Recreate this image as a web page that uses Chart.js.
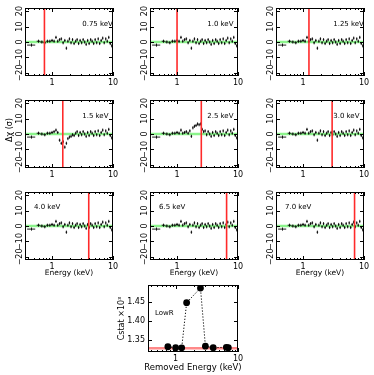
<!DOCTYPE html>
<html>
<head>
<meta charset="utf-8">
<script src="https://cdn.jsdelivr.net/npm/chart.js@4.4.1/dist/chart.umd.min.js"></script>
<style>
  html, body { margin: 0; padding: 0; background: #fff; }
  #wrap { position: relative; width: 374px; height: 375px; overflow: hidden; }
  canvas { position: absolute; }
</style>
</head>
<body>
<div id="wrap"></div>
<script>
// ---- data ----
const energies = [0.46, 0.60, 0.68, 0.76, 0.84, 0.92, 1.00, 1.08, 1.16, 1.24, 1.33, 1.42, 1.52, 1.62, 1.72,
  1.82, 1.93, 2.05, 2.17, 2.30, 2.44, 2.58, 2.73, 2.89, 3.06, 3.24, 3.43, 3.63, 3.84, 4.06,
  4.30, 4.55, 4.82, 5.10, 5.40, 5.72, 6.05, 6.40, 6.78, 7.18, 7.60, 8.05, 8.52, 9.02, 9.55];
const halfWidths = [0.07, 0.04, 0.04, 0.04, 0.04, 0.04, 0.04, 0.04, 0.04, 0.04, 0.045, 0.045, 0.05, 0.05, 0.05,
  0.05, 0.055, 0.06, 0.06, 0.065, 0.07, 0.07, 0.075, 0.08, 0.085, 0.09, 0.095, 0.1, 0.105, 0.11,
  0.12, 0.125, 0.135, 0.14, 0.15, 0.16, 0.165, 0.18, 0.19, 0.2, 0.21, 0.225, 0.235, 0.25, 0.27];
const residErr = 1;

const residBase = [-2, 0.5, 0, -0.5, 0.5, 0.5, 1, 0.5, 3, 0.5, 1.5, 2, -0.5, 1, -4,
  0.5, 2, -0.5, 1.5, -1, 0.5, 1.5, -1, 1, -0.5, 1.5, 0, -1.5, 1, -1,
  1.5, 0.5, -1, 1.5, -0.5, 2, -1, 1, 2.5, -0.5, 2, 0.5, 3, -1, -2.5];
const resid15 = [-2, 0.5, 0, -0.5, 0.5, 0.5, 1, 1.5, 2.5, 1, -4, -6, -5, -8.5, -6,
  -3, -2, -1.5, -0.5, -1, 0.5, 1.5, -1, 1, -0.5, 1.5, 0, -1.5, 1, -1,
  1.5, 0.5, -1, 1.5, -0.5, 2, -1, 1, 2.5, -0.5, 2, 0.5, 3, -1, -2.5];
const resid25 = [-2, 0.5, 0, -0.5, 0.5, 0.5, 1, 0.5, 2.5, 0.5, 1, 1.5, 0.5, 2, -1.5,
  4, 5, 5.5, 6.5, 6, 6.5, 3, 1.5, 2, -0.5, 1.5, 0, -1.5, 1, -1,
  1.5, 0.5, -1, 1.5, -0.5, 2, -1, 1, 2.5, -0.5, 2, 0.5, 3, -1, -2.5];

const modelEnergy = [0.36, 10];
const modelResid = [0, 0];

const removedEnergies = [0.75, 1.0, 1.25, 1.5, 2.5, 3.0, 4.0, 6.5, 7.0];
const panelLabels = ['0.75 keV', '1.0 keV', '1.25 keV', '1.5 keV', '2.5 keV', '3.0 keV', '4.0 keV', '6.5 keV', '7.0 keV'];
const panelResid = [residBase, residBase, residBase, resid15, resid25, residBase, residBase, residBase, residBase];

const cstatValues = [1.332, 1.3295, 1.329, 1.449, 1.488, 1.3335, 1.3295, 1.3305, 1.3295];
const cstatBest = 1.328;

const xMajorTicks = [1, 10];
const xMinorTicks = [0.4, 0.5, 0.6, 0.7, 0.8, 0.9, 2, 3, 4, 5, 6, 7, 8, 9];
const residTicks = [-20, -10, 0, 10, 20];
const cstatTicks = [1.35, 1.40, 1.45];

// ---- layout ----
const xMin = 0.36, xMax = 10, yMin = -22, yMax = 22;
const colLeft = [25, 150, 276], rowTop = [8, 100, 192];
const frameW = 88, frameH = 68;
const FONT = 'DejaVu Sans';

Chart.defaults.font.family = FONT;
Chart.defaults.color = '#000';

const wrap = document.getElementById('wrap');
function addCanvas(left, top, w, h) {
  const c = document.createElement('canvas');
  c.width = w; c.height = h;
  c.style.left = left + 'px'; c.style.top = top + 'px';
  c.style.width = w + 'px'; c.style.height = h + 'px';
  wrap.appendChild(c);
  return c;
}

function minus(v) { return String(v).replace('-', '\u2212'); }

// frame, inward ticks, error bars and texts
function deco(cfg) {
  return {
    id: 'deco',
    afterDatasetDraw(chart, args) {
      const ds = chart.data.datasets[args.index];
      if (!ds.xLo) return;
      const { ctx, chartArea: a, scales: { x, y } } = chart;
      ctx.save();
      ctx.beginPath();
      ctx.rect(a.left, a.top, a.width, a.height);
      ctx.clip();
      ctx.strokeStyle = '#000';
      ctx.lineWidth = 0.9;
      ctx.beginPath();
      ds.data.forEach((p, i) => {
        const px = x.getPixelForValue(p.x), py = y.getPixelForValue(p.y);
        ctx.moveTo(x.getPixelForValue(ds.xLo[i]), py);
        ctx.lineTo(x.getPixelForValue(ds.xHi[i]), py);
        ctx.moveTo(px, y.getPixelForValue(p.y - ds.yErr));
        ctx.lineTo(px, y.getPixelForValue(p.y + ds.yErr));
      });
      ctx.stroke();
      ctx.restore();
    },
    afterDraw(chart) {
      const { ctx, chartArea: a, scales: { x, y } } = chart;
      ctx.save();
      ctx.strokeStyle = '#000';
      ctx.lineWidth = 1;
      ctx.strokeRect(a.left + 0.5, a.top + 0.5, a.width - 1, a.height - 1);
      ctx.beginPath();
      const xt = (v, len) => {
        const px = Math.round(x.getPixelForValue(v)) + 0.5;
        ctx.moveTo(px, a.bottom); ctx.lineTo(px, a.bottom - len);
        ctx.moveTo(px, a.top); ctx.lineTo(px, a.top + len);
      };
      xMajorTicks.forEach(v => xt(v, 4));
      xMinorTicks.forEach(v => xt(v, 2));
      cfg.yTicks.forEach(v => {
        const py = Math.round(y.getPixelForValue(v)) + 0.5;
        ctx.moveTo(a.left, py); ctx.lineTo(a.left + 4, py);
        ctx.moveTo(a.right, py); ctx.lineTo(a.right - 4, py);
      });
      ctx.stroke();

      ctx.fillStyle = '#000';
      if (cfg.rotLabels) {
        ctx.font = '8px ' + FONT;
        ctx.textAlign = 'center';
        ctx.textBaseline = 'middle';
        cfg.yTicks.forEach(v => {
          ctx.save();
          ctx.translate(a.left - 5.5, y.getPixelForValue(v));
          ctx.rotate(-Math.PI / 2);
          ctx.fillText(minus(v), 0, 0);
          ctx.restore();
        });
      }
      (cfg.texts || []).forEach(t => {
        ctx.save();
        ctx.font = t.size + 'px ' + FONT;
        ctx.textAlign = t.align || 'left';
        ctx.textBaseline = 'middle';
        ctx.translate(t.x(a), t.y(a));
        if (t.rot) ctx.rotate(-Math.PI / 2);
        ctx.fillText(t.text, 0, 0);
        ctx.restore();
      });
      ctx.restore();
    }
  };
}

function logX(padBottom) {
  return {
    type: 'logarithmic', min: xMin, max: xMax,
    grid: { display: false, drawTicks: false }, border: { display: false },
    afterBuildTicks: s => { s.ticks = xMajorTicks.map(v => ({ value: v })); },
    afterFit: s => { s.height = padBottom; },
    ticks: { autoSkip: false, maxRotation: 0, padding: 2, font: { size: 8 }, callback: v => String(v) }
  };
}

// ---- residual panels ----
removedEnergies.forEach((eRem, k) => {
  const col = k % 3, row = Math.floor(k / 3);
  const fl = colLeft[col], ft = rowTop[row];
  const cv = addCanvas(fl - 25, ft - 8, 25 + frameW + 10, 8 + frameH + 22);
  const resid = panelResid[k];

  const texts = [];
  if (row < 2) {
    texts.push({ text: panelLabels[k], size: 7, x: a => a.left + 0.65 * a.width, y: a => a.top + 0.235 * a.height });
  } else {
    texts.push({ text: panelLabels[k], size: 7, x: a => a.left + 9, y: a => a.top + 0.23 * a.height });
    texts.push({ text: 'Energy (keV)', size: 7.5, align: 'center', x: a => (a.left + a.right) / 2, y: a => a.bottom + 13 });
  }
  if (row === 1 && col === 0) {
    texts.push({ text: '\u0394\u03c7 (\u03c3)', size: 8, align: 'center', rot: true, x: a => a.left - 15, y: a => a.top + 30 });
  }

  new Chart(cv, {
    type: 'scatter',
    data: {
      datasets: [
        {
          data: modelEnergy.map((e, i) => ({ x: e, y: modelResid[i] })),
          showLine: true, borderColor: 'rgba(0,230,0,0.45)', borderWidth: 2.5, pointRadius: 0, order: 3
        },
        {
          data: energies.map((e, i) => ({ x: e, y: resid[i] })),
          xLo: energies.map((e, i) => e - halfWidths[i]),
          xHi: energies.map((e, i) => e + halfWidths[i]),
          yErr: residErr,
          pointRadius: 0, order: 2
        },
        {
          data: [{ x: eRem, y: yMin }, { x: eRem, y: yMax }],
          showLine: true, borderColor: '#ff2a2a', borderWidth: 1.6, pointRadius: 0, order: 1
        }
      ]
    },
    options: {
      responsive: false, animation: false,
      layout: { padding: { left: 0, top: 8, right: 10, bottom: 0 } },
      plugins: { legend: { display: false }, tooltip: { enabled: false } },
      scales: {
        x: logX(22),
        y: {
          min: yMin, max: yMax,
          grid: { display: false, drawTicks: false }, border: { display: false },
          ticks: { display: false },
          afterFit: s => { s.width = 25; }
        }
      }
    },
    plugins: [deco({ yTicks: residTicks, rotLabels: true, texts })]
  });
});

// ---- Cstat panel ----
(function () {
  const fl = 148, ft = 285, w = 90, h = 67;
  const cv = addCanvas(fl - 40, ft - 8, 40 + w + 10, 8 + h + 25);
  new Chart(cv, {
    type: 'scatter',
    data: {
      datasets: [
        {
          data: modelEnergy.map(e => ({ x: e, y: cstatBest })),
          showLine: true, borderColor: 'rgba(255,40,40,0.55)', borderWidth: 2.5, pointRadius: 0, order: 2
        },
        {
          data: removedEnergies.map((e, i) => ({ x: e, y: cstatValues[i] })),
          showLine: true, borderColor: '#000', borderWidth: 1, borderDash: [1.2, 1.8],
          pointRadius: 3.4, pointBackgroundColor: '#000', pointBorderColor: '#000', pointBorderWidth: 0, order: 1
        }
      ]
    },
    options: {
      responsive: false, animation: false,
      layout: { padding: { left: 0, top: 8, right: 10, bottom: 0 } },
      plugins: { legend: { display: false }, tooltip: { enabled: false } },
      scales: {
        x: logX(25),
        y: {
          min: 1.318, max: 1.496,
          grid: { display: false, drawTicks: false }, border: { display: false },
          afterBuildTicks: s => { s.ticks = cstatTicks.map(v => ({ value: v })); },
          afterFit: s => { s.width = 40; },
          ticks: { padding: 3, font: { size: 8 }, callback: v => v.toFixed(2) }
        }
      }
    },
    plugins: [deco({
      yTicks: cstatTicks, rotLabels: false,
      texts: [
        { text: 'LowR', size: 7, x: a => a.left + 7, y: a => a.top + 28 },
        { text: 'Removed Energy (keV)', size: 8.5, align: 'center', x: a => (a.left + a.right) / 2, y: a => a.bottom + 16 },
        { text: 'Cstat \u00d710\u00b3', size: 8, align: 'center', rot: true, x: a => a.left - 26, y: a => (a.top + a.bottom) / 2 }
      ]
    })]
  });
})();
</script>
</body>
</html>
